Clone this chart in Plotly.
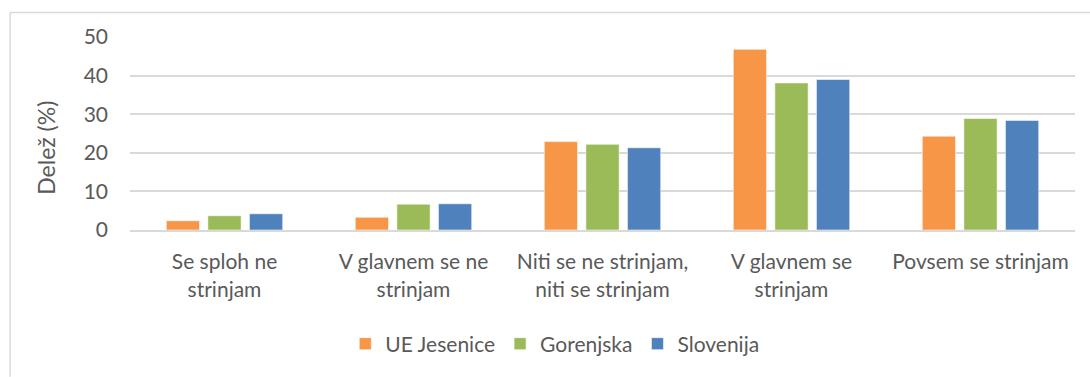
import plotly.graph_objects as go

# Survey answers (share of respondents, %)
categories = [
    "Se sploh ne<br>strinjam",
    "V glavnem se ne<br>strinjam",
    "Niti se ne strinjam,<br>niti se strinjam",
    "V glavnem se<br>strinjam",
    "Povsem se strinjam",
]
ue_jesenice = [2.4, 3.3, 22.9, 46.8, 24.3]
gorenjska = [3.7, 6.7, 22.2, 38.1, 28.9]
slovenija = [4.2, 6.8, 21.3, 39.0, 28.4]

series = [
    ("UE Jesenice", ue_jesenice, "#F79646"),
    ("Gorenjska", gorenjska, "#9BBB59"),
    ("Slovenija", slovenija, "#4F81BD"),
]

FONT = "Lato"
TXT = "#595959"
FS = 21

fig = go.Figure()
for name, vals, color in series:
    fig.add_trace(go.Bar(
        x=categories, y=vals, name=name,
        marker=dict(color=color, line=dict(color="rgba(255,255,255,0.55)", width=1)),
    ))

W, H = 1090, 377
L, R, T, B = 130, 14.5, 37.3, 145
pw, ph = W - L - R, H - T - B


def px_x(x):
    return (x - L) / pw


def px_y(y):
    return (H - B - y) / ph


fig.update_layout(
    width=W, height=H,
    margin=dict(l=L, r=R, t=T, b=B, pad=0),
    paper_bgcolor="white", plot_bgcolor="white",
    barmode="group", bargap=0.34, bargroupgap=0.2,
    font=dict(family=FONT, color=TXT, size=FS),
    showlegend=True,
    legend=dict(
        orientation="h", x=px_x(555), xanchor="center",
        y=px_y(347), yanchor="middle",
        font=dict(size=FS, color=TXT), itemwidth=30,
        traceorder="normal",
    ),
    yaxis=dict(
        range=[0, 50], dtick=10, showgrid=True, gridcolor="#D9D9D9", gridwidth=2,
        zeroline=False, showline=False, ticks="", ticklen=0,
        tickfont=dict(size=FS, color=TXT), automargin=False,
        ticklabelstandoff=21,
    ),
    xaxis=dict(
        showline=True, linecolor="#D9D9D9", linewidth=2, ticks="",
        tickfont=dict(size=FS, color=TXT), automargin=False,
        ticklabelstandoff=12,
    ),
    annotations=[dict(
        text="Delež (%)", textangle=-90, x=px_x(46), y=px_y(149),
        xref="paper", yref="paper", xanchor="center", yanchor="middle",
        showarrow=False, font=dict(size=23, color=TXT),
    )],
    shapes=[
        dict(type="line", xref="paper", yref="paper",
             x0=px_x(10), x1=px_x(10), y0=px_y(12.5), y1=px_y(380),
             line=dict(color="#D9D9D9", width=1.5)),
        dict(type="line", xref="paper", yref="paper",
             x0=px_x(10), x1=px_x(1095), y0=px_y(12.5), y1=px_y(12.5),
             line=dict(color="#D9D9D9", width=1.5)),
    ],
)

fig.write_html("out.html")
